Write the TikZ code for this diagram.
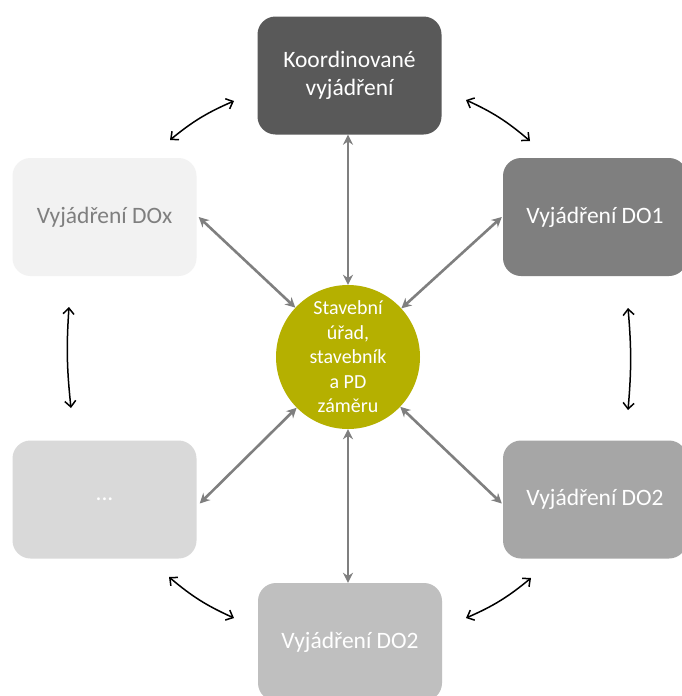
\documentclass[tikz,border=0pt]{standalone}
\usepackage{fontspec}
\setmainfont{Carlito}
\usetikzlibrary{arrows.meta}
\definecolor{cTop}{HTML}{595959}
\definecolor{cDOa}{HTML}{7F7F7F}
\definecolor{cDOb}{HTML}{A6A6A6}
\definecolor{cBot}{HTML}{BFBFBF}
\definecolor{cDots}{HTML}{D9D9D9}
\definecolor{cDOx}{HTML}{F2F2F2}
\definecolor{cCirc}{RGB}{181,176,0}
\definecolor{cArrow}{HTML}{7F7F7F}
\tikzset{
  boxnode/.style={rounded corners=18pt, minimum width=184pt, minimum height=118pt,
    inner sep=0pt, align=center, text=white,
    font=\fontsize{23.5}{28}\selectfont},
  hubnode/.style={circle, fill=cCirc, minimum size=144pt, inner sep=0pt, align=center,
    text=white, font=\fontsize{20}{24.5}\selectfont},
  grayarrow/.style={draw=cArrow, line width=2.6pt,
    {Stealth[length=10pt,width=10pt]}-{Stealth[length=10pt,width=10pt]}},
  blackarrow/.style={draw=black, line width=1.5pt,
    {Straight Barb[length=6pt,width=11pt]}-{Straight Barb[length=6pt,width=11pt]}}
}
\begin{document}
\begin{tikzpicture}[x=1pt,y=-1pt]
\useasboundingbox (0,0) rectangle (681,696);
\fill[white] (0,0) rectangle (681,696);
% boxes
\node[boxnode, fill=cTop] (top) at (349.5,75.5) {Koordinované\\vyjádření};
\node[boxnode, fill=cDOa] (doa) at (595,217) {Vyjádření DO1};
\node[boxnode, fill=cDOx, text=cDOa] (dox) at (104.5,217) {Vyjádření DOx};
\node[boxnode, fill=cDots] (dots) at (104.5,499.5) {...};
\node[boxnode, fill=cDOb] (dob) at (595,499.5) {Vyjádření DO2};
\node[boxnode, fill=cBot] (bot) at (350,642) {Vyjádření DO2};
% hub
\node[hubnode] (hub) at (348,357) {Stavební\\úřad,\\stavebník\\a PD\\záměru};
% gray arrows
\draw[grayarrow] (top.south -| hub.north) -- (hub.north);
\draw[grayarrow] (hub.south) -- (bot.north -| hub.south);
\draw[grayarrow] ([xshift=2pt]dox.east) -- (hub);
\draw[grayarrow] ([xshift=-1pt]doa.west) -- (hub);
\draw[grayarrow] ([xshift=3pt,yshift=-4pt]dots.east) -- (hub);
\draw[grayarrow] ([xshift=-1pt,yshift=-4pt]dob.west) -- (hub);
% free ends of curved arrows
\coordinate (tlA) at (170,140); \coordinate (tlB) at (234,101);
\coordinate (trA) at (466,100); \coordinate (trB) at (530,141);
\coordinate (lA) at (69,307); \coordinate (lB) at (71,408);
\coordinate (rA) at (628,308); \coordinate (rB) at (628,410);
\coordinate (blA) at (169,577); \coordinate (blB) at (234,618);
\coordinate (brA) at (466,618); \coordinate (brB) at (531,578);
\draw[blackarrow] (tlA) to[bend left=8] (tlB);
\draw[blackarrow] (trA) to[bend left=8] (trB);
\draw[blackarrow] (lA) to[bend right=5] (lB);
\draw[blackarrow] (rA) to[bend left=5] (rB);
\draw[blackarrow] (blA) to[bend right=8] (blB);
\draw[blackarrow] (brA) to[bend right=8] (brB);
\end{tikzpicture}
\end{document}
